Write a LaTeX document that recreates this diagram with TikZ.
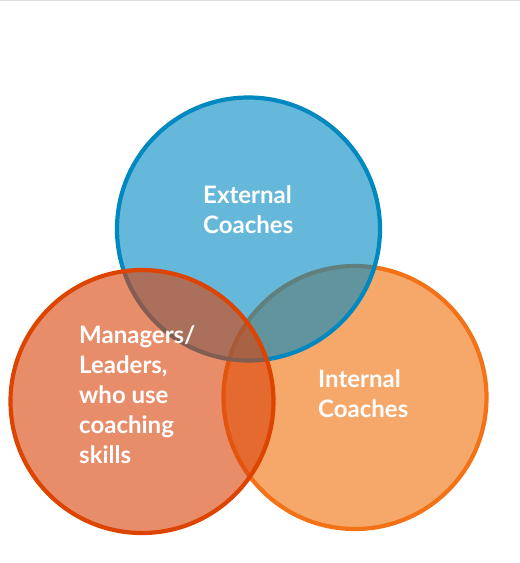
\documentclass[tikz,border=0pt]{standalone}
\usepackage{fontspec}
\setmainfont{Lato}
\definecolor{bluebase}{RGB}{0,136,194}
\definecolor{blueline}{RGB}{0,136,192}
\definecolor{leftbase}{RGB}{217,65,7}
\definecolor{leftline}{RGB}{221,68,0}
\definecolor{rightbase}{RGB}{240,110,7}
\definecolor{rightline}{RGB}{244,114,22}
\definecolor{topline}{RGB}{221,221,221}
\begin{document}
\begin{tikzpicture}[x=1pt,y=-1pt,
  venn/.style={circle,minimum size=263pt,inner sep=0pt,line width=4.2pt,fill opacity=0.6,draw opacity=1},
  lbl/.style={text=white,font=\fontsize{24}{29.8}\selectfont\bfseries,align=left,inner sep=0pt,anchor=base west}]
\useasboundingbox (0,0) rectangle (520,563);
\draw[topline,line width=1pt] (0,0.5) -- (520,0.5);
\node[venn,draw=rightline,fill=rightbase] (internal) at (355,397.5) {};
\node[venn,draw=blueline,fill=bluebase] (external) at (248.5,229) {};
\node[venn,draw=leftline,fill=leftbase] (managers) at (142,401.5) {};
\node[lbl] (textext) at (203,233) {External\\Coaches};
\node[lbl] (textint) at (318,417) {Internal\\Coaches};
\node[lbl] (textman) at (79,463) {Managers/\\Leaders,\\who use\\coaching\\skills};
\end{tikzpicture}
\end{document}
